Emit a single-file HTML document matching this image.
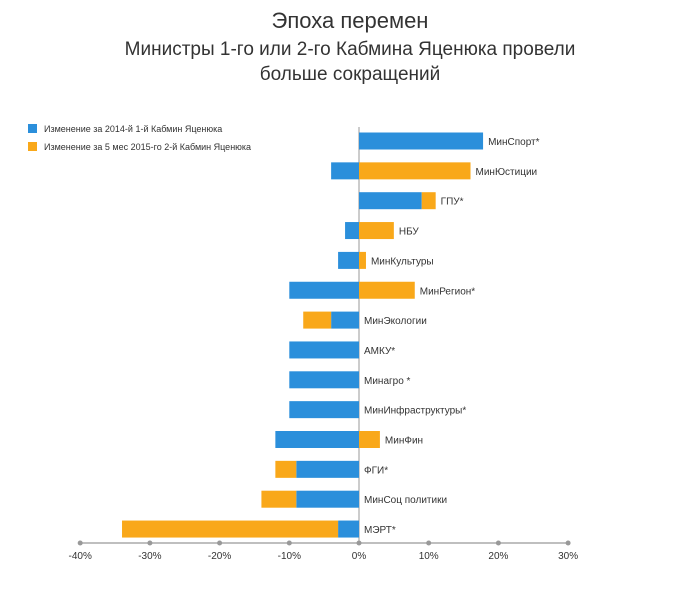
<!DOCTYPE html>
<html><head><meta charset="utf-8"><style>
html,body{margin:0;padding:0;background:#fff;}
body{width:688px;height:586px;overflow:hidden;font-family:"Liberation Sans","DejaVu Sans",sans-serif;}
</style></head><body>
<svg width="688" height="586" xmlns="http://www.w3.org/2000/svg" font-family="Liberation Sans, DejaVu Sans, sans-serif">
<text x="350" y="28" text-anchor="middle" font-size="22" fill="#333">Эпоха перемен</text>
<text x="350" y="55" text-anchor="middle" font-size="19" fill="#333">Министры 1-го или 2-го Кабмина Яценюка провели</text>
<text x="350" y="80" text-anchor="middle" font-size="19" fill="#333">больше сокращений</text>
<g>
<rect x="28" y="124" width="9" height="9" fill="#2b8fdb"/>
<text x="44" y="132" font-size="9" fill="#333">Изменение за 2014-й 1-й Кабмин Яценюка</text>
<rect x="28" y="142" width="9" height="9" fill="#f9a81a"/>
<text x="44" y="150" font-size="9" fill="#333">Изменение за 5 мес 2015-го 2-й Кабмин Яценюка</text>
</g>
<g id="plot"></g>
</svg>
<script>
const categories=["МинСпорт*","МинЮстиции","ГПУ*","НБУ","МинКультуры","МинРегион*","МинЭкологии","АМКУ*","Минагро *","МинИнфраструктуры*","МинФин","ФГИ*","МинСоц политики","МЭРТ*"];
const series2014=[17.8,-4,9,-2,-3,-10,-4,-10,-10,-10,-12,-9,-9,-3];
const series2015=[0,16,2,5,1,8,-4,0,0,0,3,-3,-5,-31];
const tickValues=[-40,-30,-20,-10,0,10,20,30];
const tickLabels=["-40%","-30%","-20%","-10%","0%","10%","20%","30%"];
const NS="http://www.w3.org/2000/svg";
const g=document.getElementById('plot');
const x=v=>359+v*6.97;
const y0=141,step=29.85,bh=17,axisY=543;
const yc=i=>y0+i*step;
function mk(t,a){const e=document.createElementNS(NS,t);for(const k in a)e.setAttribute(k,a[k]);g.appendChild(e);return e;}
// zero line
const zl=mk('line',{x1:x(0),x2:x(0),y1:127,y2:axisY,stroke:'#999','stroke-width':1});


categories.forEach((c,i)=>{
  const a=series2014[i],b=series2015[i];
  const b1=mk('rect',{x:Math.min(x(0),x(a)),y:yc(i)-bh/2,width:Math.abs(x(a)-x(0)),height:bh,fill:'#2b8fdb'});
  
  
  // orange: stacks on blue if same sign, else from zero
  const start=(Math.sign(a)===Math.sign(b))?a:0;
  const end=start+b;
  if(b!==0){
    const b2=mk('rect',{x:Math.min(x(start),x(end)),y:yc(i)-bh/2,width:Math.abs(x(end)-x(start)),height:bh,fill:'#f9a81a'});
    
    
  }
  const pos=Math.max(0,a,end,(Math.sign(a)===Math.sign(b))?0:b);
  const t=mk('text',{x:x(pos)+5,y:yc(i)+4,'font-size':10,fill:'#333'});
  t.textContent=c;
  
  
});
const ax=mk('line',{x1:x(-40),x2:x(30),y1:axisY,y2:axisY,stroke:'#aaa','stroke-width':1.5});


tickValues.forEach((v,i)=>{
  const d=mk('circle',{cx:x(v),cy:axisY,r:2.5,fill:'#999'});
  
  
  const t=mk('text',{x:x(v),y:axisY+16,'text-anchor':'middle','font-size':10,fill:'#333'});
  t.textContent=tickLabels[i];
  
  
});
</script>
</body></html>
